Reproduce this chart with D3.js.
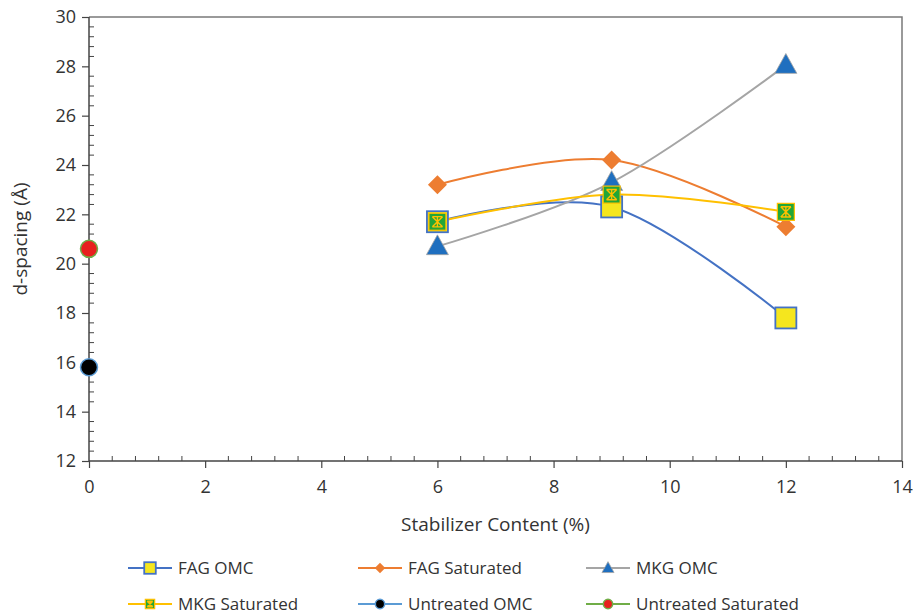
<!DOCTYPE html>
<html>
<head>
<meta charset="utf-8">
<script src="https://cdn.jsdelivr.net/npm/d3@7"></script>
<style>
  body { margin: 0; background: #fff; }
  text { font-family: "Open Sans", "Liberation Sans", sans-serif; fill: #333; }
</style>
</head>
<body>
<div id="grafico"></div>
<script>
// Datos
const contenido = [6, 9, 12];
const fagOmc = [21.7, 22.3, 17.8];
const fagSat = [23.2, 24.2, 21.5];
const mkgOmc = [20.7, 23.3, 28.05];
const mkgSat = [21.7, 22.8, 22.1];
const untreatedX = [0];
const untreatedOmc = [15.8];
const untreatedSat = [20.6];

const xTicks = [0, 2, 4, 6, 8, 10, 12, 14];
const yTicks = [12, 14, 16, 18, 20, 22, 24, 26, 28, 30];

const width = 913, height = 616;
const margin = { left: 89, right: 11, top: 17, bottom: 155 };

const svg = d3.select('#grafico').append('svg')
  .attr('width', width)
  .attr('height', height);

const x = d3.scaleLinear().domain([0, 14]).range([margin.left, width - margin.right]);
const y = d3.scaleLinear().domain([12, 30]).range([height - margin.bottom, margin.top]);

// Marco superior y derecho
svg.append('path')
  .attr('d', `M${x(0)},${y(30)}H${x(14)}V${y(12)}`)
  .attr('fill', 'none').attr('stroke', '#7a7a7a').attr('stroke-width', 1.5);

// Ticks menores (cada 0.4)
const minX = d3.range(0, 14.001, 0.4).filter(v => Math.abs(v / 2 - Math.round(v / 2)) > 0.01);
const minY = d3.range(12, 30.001, 0.4).filter(v => Math.abs(v / 2 - Math.round(v / 2)) > 0.01);

svg.append('g').selectAll('line').data(minX).join('line')
  .attr('x1', d => x(d)).attr('x2', d => x(d))
  .attr('y1', y(12)).attr('y2', y(12) - 5)
  .attr('stroke', '#444').attr('stroke-width', 1);
svg.append('g').selectAll('line').data(minY).join('line')
  .attr('x1', x(0)).attr('x2', x(0) + 5)
  .attr('y1', d => y(d)).attr('y2', d => y(d))
  .attr('stroke', '#444').attr('stroke-width', 1);

// Ejes
const ejeX = svg.append('g')
  .attr('transform', `translate(0,${y(12)})`)
  .call(d3.axisBottom(x).tickValues(xTicks).tickSize(7).tickPadding(12).tickFormat(d3.format('d')));
const ejeY = svg.append('g')
  .attr('transform', `translate(${x(0)},0)`)
  .call(d3.axisLeft(y).tickValues(yTicks).tickSize(7).tickPadding(6).tickFormat(d3.format('d')));

[ejeX, ejeY].forEach(g => {
  g.select('.domain').attr('stroke', '#444').attr('stroke-width', 1.5);
  g.selectAll('.tick line').attr('stroke', '#444').attr('stroke-width', 1.2);
  g.selectAll('.tick text').style('font-size', '18px').attr('fill', '#333');
});
ejeX.select('.domain').attr('d', `M${x(0)},0H${x(14)}`);
ejeY.select('.domain').attr('d', `M0,${y(12)}V${y(30)}`);

// Títulos de ejes
svg.append('text')
  .attr('x', (x(0) + x(14)) / 2).attr('y', 531)
  .attr('text-anchor', 'middle').style('font-size', '19px')
  .text('Stabilizer Content (%)');
svg.append('text')
  .attr('transform', `translate(27,${(y(12) + y(30)) / 2}) rotate(-90)`)
  .attr('text-anchor', 'middle').style('font-size', '19px')
  .text('d-spacing (Å)');

// Series
const series = [
  { name: 'FAG OMC', xs: contenido, ys: fagOmc, line: '#4472C4', marker: 'square', fill: '#F5E61E', stroke: '#4472C4', size: 21 },
  { name: 'FAG Saturated', xs: contenido, ys: fagSat, line: '#ED7D31', marker: 'diamond', fill: '#ED7D31', stroke: '#ED7D31', size: 19 },
  { name: 'MKG OMC', xs: contenido, ys: mkgOmc, line: '#A5A5A5', marker: 'triangle', fill: '#1F6FBF', stroke: '#A5A5A5', size: 22 },
  { name: 'MKG Saturated', xs: contenido, ys: mkgSat, line: '#FFC000', marker: 'xsquare', fill: '#22A638', stroke: '#FFC000', size: 17 },
  { name: 'Untreated OMC', xs: untreatedX, ys: untreatedOmc, line: '#5B9BD5', marker: 'circle', fill: '#000', stroke: '#5B9BD5', size: 17 },
  { name: 'Untreated Saturated', xs: untreatedX, ys: untreatedSat, line: '#70AD47', marker: 'circle', fill: '#E8201E', stroke: '#70AD47', size: 17 }
];

const linea = d3.line().x(d => x(d[0])).y(d => y(d[1])).curve(d3.curveCardinal.tension(0));

function dibujarMarcador(g, s, cx, cy, escala) {
  const r = s.size * escala / 2;
  const m = g.append('g').attr('transform', `translate(${cx},${cy})`);
  if (s.marker === 'square') {
    m.append('rect').attr('x', -r).attr('y', -r).attr('width', 2 * r).attr('height', 2 * r)
      .attr('fill', s.fill).attr('stroke', s.stroke).attr('stroke-width', 1.8);
  } else if (s.marker === 'diamond') {
    m.append('path').attr('d', `M0,${-r}L${r},0L0,${r}L${-r},0Z`).attr('fill', s.fill);
  } else if (s.marker === 'triangle') {
    m.append('path').attr('d', `M0,${-r * 1.05}L${r},${r * 0.75}L${-r},${r * 0.75}Z`)
      .attr('fill', s.fill).attr('stroke', s.stroke).attr('stroke-width', 0.8);
  } else if (s.marker === 'xsquare') {
    m.append('rect').attr('x', -r).attr('y', -r).attr('width', 2 * r).attr('height', 2 * r)
      .attr('fill', s.fill).attr('stroke', s.stroke).attr('stroke-width', 1.2);
    const k = r * 0.6;
    m.append('path').attr('d', `M${-k},${-k}L${k},${k}M${k},${-k}L${-k},${k}M${-k},${-k}H${k}M${-k},${k}H${k}M0,${-k}V${k}`)
      .attr('stroke', s.stroke).attr('stroke-width', 1.4).attr('fill', 'none');
  } else {
    m.append('circle').attr('r', r).attr('fill', s.fill).attr('stroke', s.stroke).attr('stroke-width', 1.5);
  }
}

const capa = svg.append('g');
series.forEach(s => {
  const pts = s.xs.map((v, i) => [v, s.ys[i]]);
  if (pts.length > 1) {
    capa.append('path').attr('d', linea(pts))
      .attr('fill', 'none').attr('stroke', s.line).attr('stroke-width', 2);
  }
});
series.forEach(s => {
  s.xs.forEach((v, i) => dibujarMarcador(capa, s, x(v), y(s.ys[i]), 1));
});

// Leyenda
const colX = [128, 358, 586];
const filaY = [568, 604];
series.forEach((s, i) => {
  const lx = colX[i % 3], ly = filaY[Math.floor(i / 3)];
  const g = svg.append('g');
  g.append('line').attr('x1', lx).attr('x2', lx + 44).attr('y1', ly).attr('y2', ly)
    .attr('stroke', s.line).attr('stroke-width', 2);
  dibujarMarcador(g, s, lx + 22, ly, 0.55);
  g.append('text').attr('x', lx + 50).attr('y', ly + 6).style('font-size', '17px').text(s.name);
});
</script>
</body>
</html>
